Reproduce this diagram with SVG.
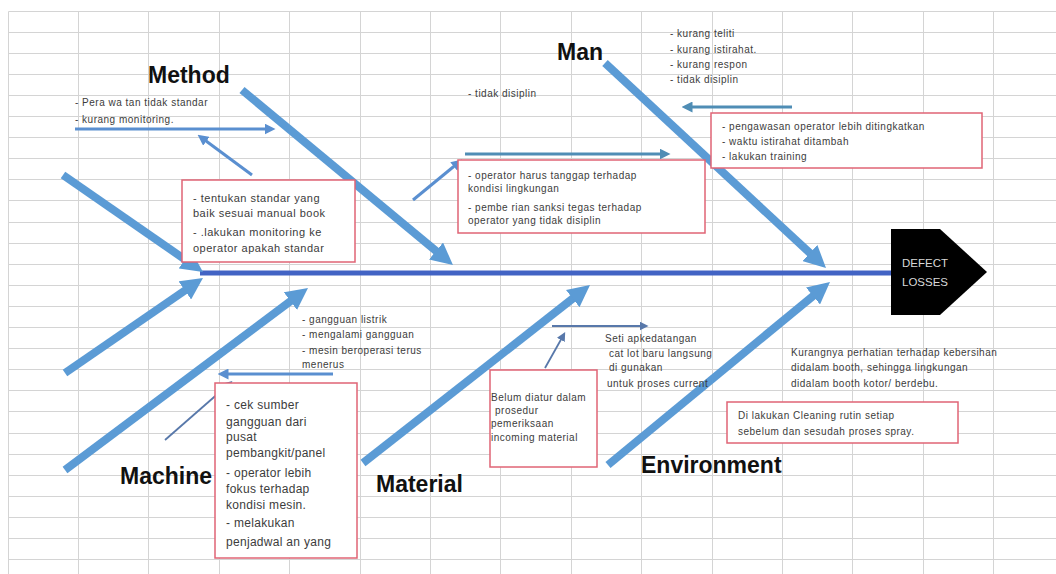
<svg xmlns="http://www.w3.org/2000/svg" width="1056" height="574" viewBox="0 0 1056 574">
<style>
.grid{fill:none;stroke:#d4d4d4;stroke-width:1}
.bone{fill:none;stroke:#5b9bd5;stroke-width:8}
.spine{fill:none;stroke:#4263c4;stroke-width:5}
.thin{fill:none;stroke:#5a8fd0;stroke-width:3}
.teal{fill:none;stroke:#4f8db5;stroke-width:3}
.hair{fill:none;stroke:#5878aa;stroke-width:1.8}
.box{fill:#ffffff;stroke:#e06475;stroke-width:1.5}
.lbl{font-family:"Liberation Sans",Arial,sans-serif;font-weight:bold;font-size:23px;fill:#111}
.t{font-family:"Liberation Sans",Arial,sans-serif;font-size:10px;letter-spacing:0.5px;fill:#3c3c3c}
.tm{font-family:"Liberation Sans",Arial,sans-serif;font-size:11px;letter-spacing:0.5px;fill:#3c3c3c}
.tl{font-family:"Liberation Sans",Arial,sans-serif;font-size:12px;letter-spacing:0.3px;fill:#3c3c3c}
.head{font-family:"Liberation Sans",Arial,sans-serif;font-size:11.5px;fill:#d8d8d8}
</style>
<defs>
<marker id="big" viewBox="0 0 10 10" refX="3" refY="5" markerUnits="userSpaceOnUse" markerWidth="22" markerHeight="22" orient="auto"><path d="M0,0 L10,5 L0,10 z" fill="#5b9bd5"/></marker>
<marker id="sm" viewBox="0 0 10 10" refX="5" refY="5" markerUnits="userSpaceOnUse" markerWidth="11" markerHeight="11" orient="auto"><path d="M0,0 L10,5 L0,10 z" fill="#5a8fd0"/></marker>
<marker id="smt" viewBox="0 0 10 10" refX="5" refY="5" markerUnits="userSpaceOnUse" markerWidth="11" markerHeight="11" orient="auto"><path d="M0,0 L10,5 L0,10 z" fill="#4f8db5"/></marker>
<marker id="hr" viewBox="0 0 10 10" refX="5" refY="5" markerUnits="userSpaceOnUse" markerWidth="9" markerHeight="9" orient="auto"><path d="M0,0 L10,5 L0,10 z" fill="#5878aa"/></marker>
</defs>
<rect width="1056" height="574" fill="#ffffff"/>
<g id="grid">
<path class="grid" d="M8.5,11.5H1056 M8.5,32.5H1056 M8.5,53.5H1056 M8.5,74.5H1056 M8.5,95.5H1056 M8.5,116.5H1056 M8.5,137.5H1056 M8.5,158.5H1056 M8.5,179.5H1056 M8.5,200.5H1056 M8.5,222.5H1056 M8.5,243.5H1056 M8.5,264.5H1056 M8.5,285.5H1056 M8.5,306.5H1056 M8.5,327.5H1056 M8.5,348.5H1056 M8.5,369.5H1056 M8.5,390.5H1056 M8.5,411.5H1056 M8.5,433.5H1056 M8.5,454.5H1056 M8.5,475.5H1056 M8.5,496.5H1056 M8.5,517.5H1056 M8.5,538.5H1056 M8.5,559.5H1056"/>
<path class="grid" d="M8.5,11.5V574 M78.5,11.5V574 M148.5,11.5V574 M219.5,11.5V574 M289.5,11.5V574 M360.5,11.5V574 M430.5,11.5V574 M500.5,11.5V574 M571.5,11.5V574 M641.5,11.5V574 M712.5,11.5V574 M782.5,11.5V574 M852.5,11.5V574 M923.5,11.5V574 M993.5,11.5V574"/>
</g>
<g id="connectors">
<line class="spine" x1="200" y1="273" x2="893" y2="273"/>
<line class="bone" x1="63" y1="175" x2="190.3" y2="263.2" marker-end="url(#big)"/>
<line class="bone" x1="65" y1="373" x2="190.3" y2="286.7" marker-end="url(#big)"/>
<line class="bone" x1="242" y1="90" x2="441.1" y2="255.2" marker-end="url(#big)"/>
<line class="bone" x1="605" y1="63" x2="814.7" y2="257.5" marker-end="url(#big)"/>
<line class="bone" x1="65" y1="470" x2="295.7" y2="297.2" marker-end="url(#big)"/>
<line class="bone" x1="363" y1="463" x2="577.9" y2="294.5" marker-end="url(#big)"/>
<line class="bone" x1="608" y1="465" x2="818.1" y2="291.8" marker-end="url(#big)"/>
<line class="thin" x1="75" y1="129" x2="270" y2="129" marker-end="url(#sm)"/>
<line class="thin" x1="252" y1="175" x2="202" y2="138" marker-end="url(#sm)"/>
<line class="thin" x1="413" y1="200" x2="458" y2="163" marker-end="url(#sm)"/>
<line class="teal" x1="465" y1="154" x2="665" y2="154" marker-end="url(#smt)"/>
<line class="teal" x1="792" y1="107" x2="687" y2="107" marker-end="url(#smt)"/>
<line class="thin" x1="333" y1="374" x2="223" y2="374" marker-end="url(#sm)"/>
<line class="hair" x1="165" y1="440" x2="229" y2="384" marker-end="url(#hr)"/>
<line class="hair" x1="552" y1="326" x2="644" y2="326" marker-end="url(#hr)"/>
<line class="hair" x1="545" y1="368" x2="563" y2="336" marker-end="url(#hr)"/>
</g>
<g id="head">
<polygon points="891,229 940,229 987,272 940,315 891,315" fill="#000"/>
<text class="head" x="902" y="267">DEFECT</text>
<text class="head" x="902" y="286">LOSSES</text>
</g>
<g id="method">
<text class="lbl" x="148" y="83">Method</text>
</g>
<g id="method-causes">
<text class="t" x="75" y="106">- Pera wa tan tidak standar</text>
<text class="t" x="75" y="123">- kurang monitoring.</text>
</g>
<g id="method-actions">
<rect class="box" x="182" y="180" width="173" height="82"/>
<text class="tm" x="193" y="202">- tentukan  standar yang</text>
<text class="tm" x="193" y="217">baik sesuai manual book</text>
<text class="tm" x="193" y="236">- .lakukan monitoring ke</text>
<text class="tm" x="193" y="252">operator apakah standar</text>
</g>
<g id="man">
<text class="lbl" x="557" y="60">Man</text>
</g>
<g id="man-causes">
<text class="t" x="670" y="37">-  kurang teliti</text>
<text class="t" x="670" y="53">- kurang istirahat.</text>
<text class="t" x="670" y="68">-  kurang respon</text>
<text class="t" x="670" y="83">- tidak disiplin</text>
<text class="t" x="468" y="97">- tidak disiplin</text>
</g>
<g id="man-actions-1">
<rect class="box" x="458" y="160" width="247" height="73"/>
<text class="t" x="468" y="179">- operator harus tanggap terhadap</text>
<text class="t" x="468" y="192">kondisi lingkungan</text>
<text class="t" x="468" y="211">- pembe rian sanksi tegas terhadap</text>
<text class="t" x="468" y="224">operator yang tidak disiplin</text>
</g>
<g id="man-actions-2">
<rect class="box" x="711" y="113" width="271" height="55"/>
<text class="t" x="722" y="130">- pengawasan operator lebih ditingkatkan</text>
<text class="t" x="722" y="145">- waktu istirahat ditambah</text>
<text class="t" x="722" y="160">- lakukan training</text>
</g>
<g id="machine">
<text class="lbl" x="120" y="484">Machine</text>
</g>
<g id="machine-causes">
<text class="t" x="302" y="323">- gangguan listrik</text>
<text class="t" x="302" y="338">- mengalami gangguan</text>
<text class="t" x="302" y="354">- mesin beroperasi terus</text>
<text class="t" x="302" y="368">menerus</text>
</g>
<g id="machine-actions">
<rect class="box" x="215" y="383" width="142" height="175"/>
<text class="tl" x="226" y="409">- cek sumber</text>
<text class="tl" x="226" y="426">gangguan dari</text>
<text class="tl" x="226" y="441">pusat</text>
<text class="tl" x="226" y="457">pembangkit/panel</text>
<text class="tl" x="226" y="477">- operator  lebih</text>
<text class="tl" x="226" y="493">fokus terhadap</text>
<text class="tl" x="226" y="509">kondisi mesin.</text>
<text class="tl" x="226" y="527">- melakukan</text>
<text class="tl" x="226" y="546">penjadwal an yang</text>
</g>
<g id="material">
<text class="lbl" x="376" y="492">Material</text>
</g>
<g id="material-cause">
<rect class="box" x="490" y="370" width="107" height="97"/>
<text class="t" x="491" y="401">Belum diatur dalam</text>
<text class="t" x="495" y="414">prosedur</text>
<text class="t" x="491" y="427">pemeriksaan</text>
<text class="t" x="491" y="441">incoming material</text>
</g>
<g id="material-action">
<text class="t" x="605" y="342">Seti apkedatangan</text>
<text class="t" x="609" y="357">cat lot baru langsung</text>
<text class="t" x="609" y="371">di gunakan</text>
<text class="t" x="607" y="387">untuk proses current</text>
</g>
<g id="environment">
<text class="lbl" x="641" y="473">Environment</text>
</g>
<g id="environment-cause">
<text class="t" x="791" y="356">Kurangnya perhatian terhadap kebersihan</text>
<text class="t" x="791" y="371">didalam booth, sehingga lingkungan</text>
<text class="t" x="791" y="387">didalam booth kotor/ berdebu.</text>
</g>
<g id="environment-action">
<rect class="box" x="727" y="402" width="231" height="41"/>
<text class="t" x="738" y="419">Di lakukan Cleaning rutin setiap</text>
<text class="t" x="738" y="435">sebelum dan sesudah proses spray.</text>
</g>
</svg>
